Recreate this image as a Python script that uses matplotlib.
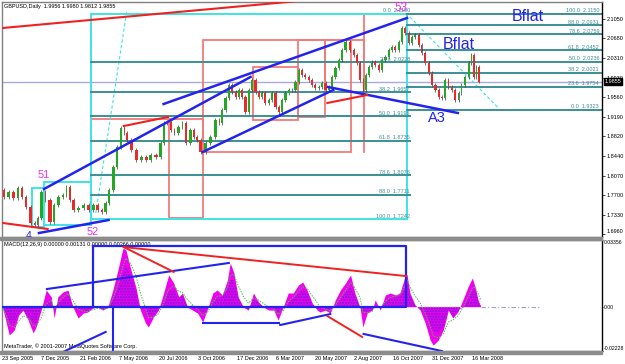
import numpy as np
import pandas as pd
import matplotlib
matplotlib.use("Agg")
import matplotlib.pyplot as plt
from matplotlib.patches import Rectangle

# ---- data (x = bar number, 54 bars between date labels) ----
bars = [0, 6, 12, 19, 25, 30, 36, 43, 47, 51, 58, 62, 70, 74, 81, 87, 91, 96, 102, 109,
        116, 123, 129, 135, 140, 146, 150, 157, 161, 167, 171, 175, 182, 189, 196, 202,
        209, 216, 222, 226, 230, 236, 240, 247, 251, 256, 263, 267, 271, 278, 284, 291,
        298, 302, 306, 311, 315, 320, 325, 329, 333, 339, 343, 347, 353, 357, 361, 366,
        371, 375, 380, 384, 388, 394, 398, 402, 408, 412, 416, 421, 426, 430, 435, 439,
        444, 449, 453, 457, 463, 467, 471, 478, 483, 488, 492, 497, 500, 504, 508, 512,
        518, 522, 526, 532, 536, 540, 545, 550, 554, 559, 563, 568, 573, 577, 581, 587,
        591, 595, 601, 605, 609, 614, 618, 623, 628, 632, 636, 642, 646, 649, 653, 656, 660]
closes = [1.7797, 1.7664, 1.7759, 1.7645, 1.7835, 1.7664, 1.7474, 1.7169, 1.7131, 1.7264,
          1.7759, 1.7607, 1.7188, 1.7512, 1.7664, 1.7702, 1.7854, 1.7607, 1.7417, 1.7455,
          1.7512, 1.7417, 1.7512, 1.7417, 1.7378, 1.7550, 1.7797, 1.8234, 1.8615, 1.8976,
          1.8881, 1.8748, 1.8558, 1.8368, 1.8425, 1.8368, 1.8463, 1.8425, 1.8691, 1.9071,
          1.9090, 1.8938, 1.8881, 1.8995, 1.9071, 1.8691, 1.8938, 1.8805, 1.8748, 1.8520,
          1.8691, 1.8805, 1.9128, 1.9071, 1.9319, 1.9547, 1.9794, 1.9661, 1.9566, 1.9699,
          1.9566, 1.9281, 1.9699, 1.9889, 1.9661, 1.9566, 1.9642, 1.9452, 1.9509, 1.9642,
          1.9376, 1.9281, 1.9509, 1.9642, 1.9699, 1.9699, 1.9851, 2.0080, 1.9984, 1.9947,
          1.9889, 1.9794, 1.9737, 1.9756, 1.9832, 1.9699, 1.9756, 1.9947, 2.0118, 2.0270,
          2.0460, 2.0612, 2.0460, 2.0365, 2.0213, 1.9889, 1.9699, 1.9984, 2.0137, 2.0232,
          2.0175, 2.0080, 2.0270, 2.0327, 2.0460, 2.0517, 2.0460, 2.0612, 2.0879, 2.0783,
          2.0593, 2.0707, 2.0745, 2.0555, 2.0403, 2.0213, 2.0023, 1.9794, 1.9699, 1.9566,
          1.9547, 1.9889, 1.9756, 1.9699, 1.9509, 1.9642, 1.9794, 1.9947, 2.0213, 2.0365,
          1.9947, 2.0137, 1.9855]

macd_bars = [1, 6, 10, 17, 23, 29, 36, 43, 47, 54, 61, 68, 72, 77, 84, 91, 98, 105, 112,
             118, 125, 132, 139, 146, 153, 160, 167, 171, 178, 185, 191, 198, 202, 209, 216,
             223, 230, 237, 244, 249, 256, 263, 270, 277, 284, 291, 297, 304, 311, 315, 320,
             326, 333, 340, 347, 354, 361, 368, 375, 381, 388, 395, 402, 409, 415, 421, 428,
             435, 439, 446, 453, 460, 467, 474, 481, 487, 494, 498, 504, 511, 515, 522, 529,
             536, 543, 549, 556, 559, 563, 570, 577, 584, 591, 595, 602, 609, 616, 622, 629,
             636, 643, 649, 653, 657, 661]
macd_vals = [-0.0007, -0.0082, -0.0142, -0.0117, -0.0042, -0.0017, -0.0067, -0.0132, -0.0102,
             -0.0017, 0.0084, 0.0049, -0.0057, 0.0049, 0.0074, 0.0084, -0.0002, -0.0057,
             -0.0032, -0.0027, -0.0007, -0.0002, -0.0017, -0.0002, 0.0084, 0.0185, 0.0295,
             0.0285, 0.0185, 0.0094, -0.0017, -0.0082, -0.0102, -0.0052, -0.0017, 0.0069,
             0.0160, 0.0119, 0.0049, 0.0069, -0.0002, -0.0017, -0.0032, -0.0077, -0.0007,
             0.0069, 0.0084, 0.0059, 0.0134, 0.0220, 0.0170, 0.0049, -0.0002, -0.0017, 0.0069,
             0.0024, -0.0002, -0.0017, -0.0017, -0.0067, -0.0002, 0.0069, 0.0069, 0.0109,
             0.0124, 0.0084, 0.0019, -0.0017, -0.0027, -0.0017, -0.0032, 0.0034, 0.0084,
             0.0119, 0.0160, 0.0069, -0.0002, -0.0102, -0.0032, -0.0017, 0.0034, -0.0017,
             0.0059, 0.0069, 0.0059, 0.0069, 0.0149, 0.0160, 0.0069, 0.0009, -0.0017, -0.0082,
             -0.0168, -0.0193, -0.0168, -0.0117, -0.0017, -0.0057, -0.0027, 0.0034, 0.0099,
             0.0144, 0.0099, 0.0034, -0.0002]

date_labels = ["23 Sep 2005", "7 Dec 2005", "21 Feb 2006", "7 May 2006", "20 Jul 2006",
               "3 Oct 2006", "17 Dec 2006", "6 Mar 2007", "20 May 2007", "2 Aug 2007",
               "16 Oct 2007", "31 Dec 2007", "16 Mar 2008"]
bars_per_label = 54
price_ticks = [2.1050, 2.0680, 2.0310, 1.9930, 1.9560, 1.9190, 1.8820, 1.8440, 1.8070,
               1.7700, 1.7330, 1.6960]
macd_ticks = [0.03356, 0.0, -0.02228]
header = "GBPUSD,Daily  1.9956 1.9980 1.9812 1.9855"
macd_header = "MACD(12,26,9) 0.00000 0.00131 0.00000 0.00266 0.00000"
copyright_txt = "MetaTrader, \u00a9 2001-2007 MetaQuotes Software Corp."

fib_ratios = [0.0, 23.6, 38.2, 50.0, 61.8, 78.6, 88.0, 100.0]
fib1_high, fib1_low, fib1_span = 2.1150, 1.7242, (123, 563)
fib2_high, fib2_low, fib2_span = 2.1150, 1.9323, (559, 828)

# hand-drawn objects (bar, price)
blue_lines = [((58, 343), (1.7816, 1.9947)),
              ((223, 559), (1.9433, 2.1069)),
              ((277, 457), (1.8520, 1.9699)),
              ((450, 629), (1.9756, 1.9262)),
              ((51, 147), (1.6979, 1.7226))]
red_lines = [((1.4, 402), (2.0879, 2.1383)),
             ((1.4, 63), (1.7169, 1.7055)),
             ((168, 229), (1.9014, 1.9186)),
             ((449, 504), (1.9452, 1.9604))]
salmon_rects = [(277, 1.8520, 481, 2.0650),
                (230, 1.7264, 277, 1.9148),
                (347, 1.9128, 409, 2.0137),
                (409, 1.9186, 446, 2.0650),
                (446, 1.9661, 500, 2.0650)]
salmon_segments = [((123, 230), (1.9148, 1.9148)),
                   ((499, 499), (1.8520, 2.1145))]
cyan_rects = [(123, 1.7242, 559, 2.1150), (41, 1.7093, 58, 1.7835), (58, 1.7131, 123, 1.7949)]
cyan_dashed = [((172, 129), (2.1183, 1.7321)), ((563, 685), (2.1088, 1.9357))]

macd_blue = [((84, 143), (-0.0228, -0.0127)),
             ((62, 313), (0.0089, 0.0220)),
             ((278, 382), (-0.0082, -0.0082)),
             ((384, 453), (-0.0092, -0.0037)),
             ((499, 607), (-0.0137, -0.0223)),
             ((153, 153), (0.0, -0.0223))]
macd_red = [((168, 237), (0.0300, 0.0175)),
            ((168, 558), (0.0300, 0.0154)),
            ((449, 497), (-0.0047, -0.0152))]
macd_box = (125, 0.0, 558, 0.0305)

BLUE = "#2323f0"
RED = "#ee2222"
SALMON = "#f27a7a"
CYAN = "#3fe4e4"
TEAL = "#3c8f94"
MAGENTA = "#ee30ee"
small = dict(family="Liberation Sans", fontsize=3.95)

fig = plt.figure(figsize=(6.25, 3.64), dpi=100)
fig.patch.set_facecolor("white")
ax = fig.add_axes([2 / 625, 1 - 237 / 364, 600 / 625, 235 / 364])
ax2 = fig.add_axes([2 / 625, 1 - 351 / 364, 600 / 625, 111 / 364], sharex=ax)

# grey separators between the MT4 windows
for y0, h in ((237, 3), (351, 2.5)):
    fig.patches.append(Rectangle((0, 1 - (y0 + h) / 364), 602 / 625, h / 364,
                                 transform=fig.transFigure, color="#8c8c8c", zorder=0))

xmin, xmax = 1.4, 828
ax.set_xlim(xmin, xmax)
ax.set_ylim(1.6903, 2.1373)
ax2.set_ylim(macd_ticks[2], macd_ticks[0])

# ---- price panel ----
ax.axhline(closes[-1], color="#a9a9d8", lw=1, zorder=1)

for x0, y0, x1, y1 in salmon_rects:
    ax.add_patch(Rectangle((x0, y0), x1 - x0, y1 - y0, fill=False, ec=SALMON, lw=1.3, zorder=2))
for xs, ys in salmon_segments:
    ax.plot(xs, ys, color=SALMON, lw=1.3, zorder=2)

for x0, y0, x1, y1 in cyan_rects:
    ax.add_patch(Rectangle((x0, y0), x1 - x0, y1 - y0, fill=False, ec=CYAN, lw=1.4, zorder=2))
for xs, ys in cyan_dashed:
    ax.plot(xs, ys, color=CYAN, lw=0.8, ls=(0, (3, 2)), zorder=2)

for r in fib_ratios:
    lvl = fib1_high - r / 100 * (fib1_high - fib1_low)
    if 0 < r < 100:
        ax.plot(fib1_span, [lvl, lvl], color=TEAL, lw=1.4, zorder=2)
    ax.text(fib1_span[1], lvl + 0.0012, f"{r:.1f}  {lvl:.4f}", color=TEAL, ha="right",
            va="bottom", **small, zorder=5)
for r in fib_ratios:
    lvl = fib2_low + r / 100 * (fib2_high - fib2_low)
    ax.plot(fib2_span, [lvl, lvl], color=TEAL, lw=1.4, zorder=2)
    ax.text(824, lvl + 0.0012, f"{r:.1f}  {lvl:.4f}", color=TEAL, ha="right",
            va="bottom", **small, zorder=5)

# candles built from consecutive closes
b = np.array(bars, dtype=float)
c = np.array(closes)
opens = c[:-1]
cl = c[1:]
steps = np.diff(b)
centers = b[1:] - steps / 2
up = cl >= opens
ax.vlines(centers, np.minimum(opens, cl) - 0.003, np.maximum(opens, cl) + 0.003,
          color="#3a3a3a", lw=0.5, zorder=2.9)
ax.bar(centers[up], (cl - opens)[up], bottom=opens[up], width=steps[up] * 0.6,
       color="#22a822", lw=0, zorder=3)
ax.bar(centers[~up], (cl - opens)[~up], bottom=opens[~up], width=steps[~up] * 0.6,
       color="#e82a2a", lw=0, zorder=3)

for xs, ys in blue_lines:
    ax.plot(xs, ys, color=BLUE, lw=1.8, zorder=4)
for xs, ys in red_lines:
    ax.plot(xs, ys, color=RED, lw=1.5, zorder=4)

ax.text(58, 1.8082, "51", color=MAGENTA, fontsize=7.8, ha="center", va="center", family="Liberation Sans")
ax.text(125, 1.6998, "52", color=MAGENTA, fontsize=7.8, ha="center", va="center", family="Liberation Sans")
ax.text(550, 2.1260, "53", color=MAGENTA, fontsize=8.5, ha="center", va="center", family="Liberation Sans", zorder=6)
ax.text(37, 1.6930, "4", color=BLUE, fontsize=7.5, ha="center", va="center", family="Liberation Sans", clip_on=True)
ax.text(600, 1.9167, "A3", color=BLUE, fontsize=10.5, ha="center", va="center", family="Liberation Sans")
ax.text(726, 2.1088, "Bflat", color=BLUE, fontsize=11.5, ha="center", va="center", family="Liberation Sans")
ax.text(631, 2.0574, "Bflat", color=BLUE, fontsize=11.5, ha="center", va="center", family="Liberation Sans")
ax.text(0.004, 0.992, header, transform=ax.transAxes, va="top", ha="left", **small)

ax.yaxis.tick_right()
ax.set_yticks(price_ticks)
ax.set_yticklabels([f"{p:.4f}" for p in price_ticks], **small)
ax.tick_params(axis="y", length=2, width=0.5, pad=1.5, colors="black")
ax.tick_params(axis="x", bottom=False, labelbottom=False)
ax.get_yticklabels()[-1].set_verticalalignment("bottom")

# current price tag
ax.annotate(f"{closes[-1]:.4f}", xy=(1.0, closes[-1]), xycoords=("axes fraction", "data"),
            xytext=(2, 0), textcoords="offset points", va="center", ha="left", color="white",
            bbox=dict(boxstyle="square,pad=0.15", fc="black", ec="black"), **small)

# ---- MACD panel ----
mb = np.array(macd_bars, dtype=float)
mv = np.array(macd_vals)
signal = pd.Series(mv).ewm(span=3, adjust=False).mean().to_numpy()
ax2.fill_between(mb, 0, mv, color="#f000f0", lw=0, zorder=2)
ax2.fill_between(mb, 0, np.where(np.abs(signal) < np.abs(mv), signal, mv) * 0.85, facecolor="none",
                 hatch="......", edgecolor="#6a1fd0", lw=0, zorder=2.5)
ax2.plot(mb, signal, color="#4cc04c", lw=0.7, ls=(0, (1.5, 1.2)), zorder=3)

ax2.plot([macd_box[0], macd_box[2], macd_box[2], macd_box[0], macd_box[0]],
         [macd_box[3], macd_box[3], macd_box[1], macd_box[1], macd_box[3]], color=BLUE, lw=1.6, zorder=4)
ax2.plot([xmin, macd_box[0]], [0, 0], color=BLUE, lw=1.6, zorder=4)
ax2.plot([macd_bars[-1], 743], [0, 0], color="#a0a0c8", lw=0.8, ls=(0, (4, 2, 1, 2)), zorder=1)
for xs, ys in macd_blue:
    ax2.plot(xs, ys, color=BLUE, lw=1.5, zorder=4)
for xs, ys in macd_red:
    ax2.plot(xs, ys, color=RED, lw=1.4, zorder=4)

ax2.text(0.004, 0.985, macd_header, transform=ax2.transAxes, va="top", ha="left", **small)
ax2.text(0.004, 0.02, copyright_txt, transform=ax2.transAxes, va="bottom", ha="left", **small)

ax2.yaxis.tick_right()
ax2.set_yticks(macd_ticks)
ax2.set_yticklabels(["0.03356", "0.00", "-0.02228"], family="Liberation Sans", fontsize=3.7)
ax2.tick_params(axis="y", length=1, width=0.5, pad=0.4)
mlabels = ax2.get_yticklabels()
mlabels[0].set_verticalalignment("top")
mlabels[2].set_verticalalignment("bottom")

ax2.set_xticks([k * bars_per_label for k in range(len(date_labels))])
ax2.set_xticklabels(date_labels, ha="left", **small)
ax2.tick_params(axis="x", length=2, width=0.5, pad=1.5)

for a in (ax, ax2):
    a.set_facecolor("white")
    for s in a.spines.values():
        s.set_color("#808080")
        s.set_linewidth(1.0)
    a.spines["right"].set_color("black")

fig.savefig("out.png", dpi=100)
